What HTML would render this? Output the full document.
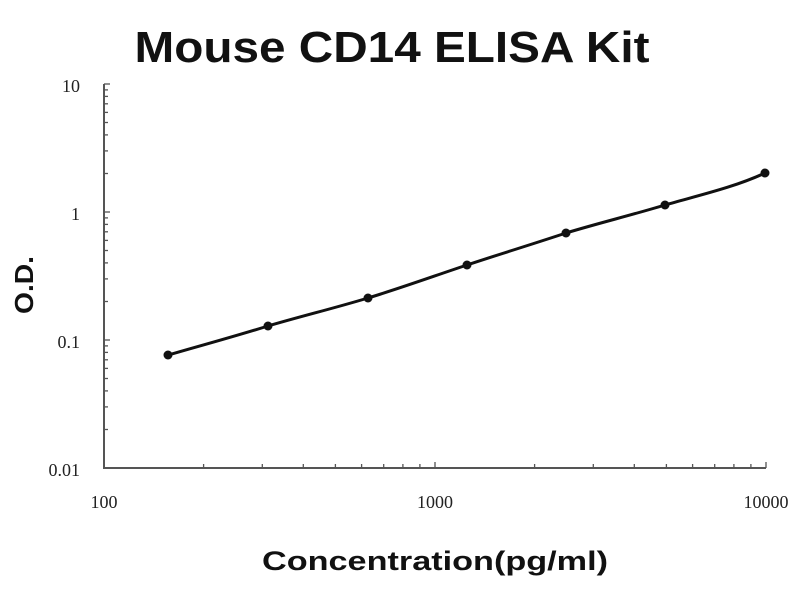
<!DOCTYPE html>
<html><head><meta charset="utf-8"><style>html,body{margin:0;padding:0;background:#fff}</style></head>
<body>
<svg width="800" height="600" xmlns="http://www.w3.org/2000/svg">
<rect width="800" height="600" fill="#fff"/>
<text x="392" y="62" font-family="Liberation Sans, sans-serif" font-weight="bold" font-size="44" text-anchor="middle" fill="#111" textLength="515" lengthAdjust="spacingAndGlyphs">Mouse CD14 ELISA Kit</text>
<g stroke="#555" stroke-width="2" fill="none">
<path d="M104 84 V468 H766"/>
</g>
<g stroke="#555" stroke-width="1.3">
<line x1="203.6" y1="468" x2="203.6" y2="464"/><line x1="262.3" y1="468" x2="262.3" y2="464"/><line x1="303.3" y1="468" x2="303.3" y2="464"/><line x1="335.4" y1="468" x2="335.4" y2="464"/><line x1="361.6" y1="468" x2="361.6" y2="464"/><line x1="383.7" y1="468" x2="383.7" y2="464"/><line x1="402.9" y1="468" x2="402.9" y2="464"/><line x1="419.9" y1="468" x2="419.9" y2="464"/><line x1="435" y1="468" x2="435" y2="462"/>
<line x1="534.6" y1="468" x2="534.6" y2="464"/><line x1="593.3" y1="468" x2="593.3" y2="464"/><line x1="634.3" y1="468" x2="634.3" y2="464"/><line x1="666.4" y1="468" x2="666.4" y2="464"/><line x1="692.6" y1="468" x2="692.6" y2="464"/><line x1="714.7" y1="468" x2="714.7" y2="464"/><line x1="733.9" y1="468" x2="733.9" y2="464"/><line x1="750.9" y1="468" x2="750.9" y2="464"/><line x1="766" y1="468" x2="766" y2="462"/>
<line x1="104" y1="429.5" x2="108" y2="429.5"/><line x1="104" y1="406.9" x2="108" y2="406.9"/><line x1="104" y1="390.9" x2="108" y2="390.9"/><line x1="104" y1="378.5" x2="108" y2="378.5"/><line x1="104" y1="368.4" x2="108" y2="368.4"/><line x1="104" y1="359.8" x2="108" y2="359.8"/><line x1="104" y1="352.4" x2="108" y2="352.4"/><line x1="104" y1="345.9" x2="108" y2="345.9"/><line x1="104" y1="340" x2="110" y2="340"/>
<line x1="104" y1="301.5" x2="108" y2="301.5"/><line x1="104" y1="278.9" x2="108" y2="278.9"/><line x1="104" y1="262.9" x2="108" y2="262.9"/><line x1="104" y1="250.5" x2="108" y2="250.5"/><line x1="104" y1="240.4" x2="108" y2="240.4"/><line x1="104" y1="231.8" x2="108" y2="231.8"/><line x1="104" y1="224.4" x2="108" y2="224.4"/><line x1="104" y1="217.9" x2="108" y2="217.9"/><line x1="104" y1="212" x2="110" y2="212"/>
<line x1="104" y1="173.5" x2="108" y2="173.5"/><line x1="104" y1="150.9" x2="108" y2="150.9"/><line x1="104" y1="134.9" x2="108" y2="134.9"/><line x1="104" y1="122.5" x2="108" y2="122.5"/><line x1="104" y1="112.4" x2="108" y2="112.4"/><line x1="104" y1="103.8" x2="108" y2="103.8"/><line x1="104" y1="96.4" x2="108" y2="96.4"/><line x1="104" y1="89.9" x2="108" y2="89.9"/><line x1="104" y1="84" x2="110" y2="84"/>
</g>
<g font-family="Liberation Serif, serif" font-size="18" fill="#222">
<text x="80" y="92" text-anchor="end">10</text>
<text x="80" y="220" text-anchor="end">1</text>
<text x="80" y="348" text-anchor="end">0.1</text>
<text x="80" y="476" text-anchor="end">0.01</text>
<text x="104" y="508" text-anchor="middle">100</text>
<text x="435" y="508" text-anchor="middle">1000</text>
<text x="766" y="508" text-anchor="middle">10000</text>
</g>
<text x="435" y="570" font-family="Liberation Sans, sans-serif" font-weight="bold" font-size="27" text-anchor="middle" fill="#111" textLength="346" lengthAdjust="spacingAndGlyphs">Concentration(pg/ml)</text>
<text transform="translate(33,285) rotate(-90)" font-family="Liberation Sans, sans-serif" font-weight="bold" font-size="26" text-anchor="middle" fill="#111" textLength="58" lengthAdjust="spacingAndGlyphs">O.D.</text>
<path d="M168 355 C200 346,236 336,268 326 C302 316,335 308,368 298 C401 288,434 276,467 265 C500 254,533 244,566 233 C599 223,632 215,665 205 C700 195,735 187,765 173" stroke="#111" stroke-width="3" fill="none"/>
<g fill="#111">
<circle cx="168" cy="355" r="4.5"/><circle cx="268" cy="326" r="4.5"/><circle cx="368" cy="298" r="4.5"/><circle cx="467" cy="265" r="4.5"/><circle cx="566" cy="233" r="4.5"/><circle cx="665" cy="205" r="4.5"/><circle cx="765" cy="173" r="4.5"/>
</g>
</svg>
</body></html>
